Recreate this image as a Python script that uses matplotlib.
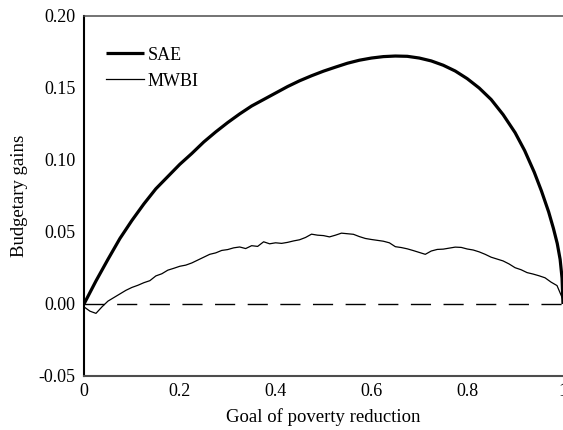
import numpy as np
import matplotlib
matplotlib.use('Agg')
from matplotlib import pyplot as plt

plt.rcParams['font.family'] = ['Liberation Serif', 'DejaVu Serif']

# SAE curve
sae_x = [0.000, 0.025, 0.050, 0.075, 0.100, 0.125, 0.150, 0.175, 0.200, 0.225,
         0.250, 0.275, 0.300, 0.325, 0.350, 0.375, 0.400, 0.425, 0.450, 0.475,
         0.500, 0.525, 0.550, 0.575, 0.600, 0.625, 0.650, 0.675, 0.700, 0.725,
         0.750, 0.775, 0.800, 0.825, 0.850, 0.875, 0.900, 0.920, 0.940, 0.955,
         0.970, 0.980, 0.988, 0.994, 0.998, 1.000]
sae_y = [0.000, 0.016, 0.031, 0.0455, 0.058, 0.0695, 0.080, 0.0885, 0.097, 0.1045,
         0.1125, 0.1195, 0.126, 0.132, 0.1375, 0.142, 0.1465, 0.151, 0.155, 0.1585,
         0.1617, 0.1645, 0.1672, 0.1693, 0.1708, 0.1718, 0.1722, 0.172, 0.1708, 0.1688,
         0.1658, 0.1618, 0.1565, 0.150, 0.142, 0.1315, 0.119, 0.1065, 0.0915, 0.0785,
         0.064, 0.0525, 0.042, 0.031, 0.018, 0.000]

# MWBI curve, step 0.0125
mwbi_x = [i * 0.0125 for i in range(81)]
mwbi_y = [-0.002, -0.005, -0.0065, -0.002, 0.002, 0.0045, 0.007, 0.0095, 0.0115, 0.013,
          0.0148, 0.0162, 0.0195, 0.021, 0.0235, 0.0248, 0.0262, 0.027, 0.0285, 0.0305,
          0.0325, 0.0345, 0.0355, 0.0372, 0.0378, 0.039, 0.0396, 0.0385, 0.0405, 0.040,
          0.0432, 0.0418, 0.0425, 0.0421, 0.0428, 0.0438, 0.0446, 0.0462, 0.0485, 0.0478,
          0.0475, 0.0466, 0.0478, 0.0492, 0.0488, 0.0484, 0.0468, 0.0455, 0.0448, 0.0442,
          0.0436, 0.0425, 0.0398, 0.0392, 0.0383, 0.0371, 0.0358, 0.0345, 0.0368, 0.0379,
          0.0381, 0.0388, 0.0395, 0.0393, 0.0382, 0.0375, 0.0362, 0.0345, 0.0325, 0.0312,
          0.0299, 0.0278, 0.0252, 0.0238, 0.0218, 0.0208, 0.0196, 0.0182, 0.0152, 0.0128,
          0.003]

xticks = [0, 0.2, 0.4, 0.6, 0.8, 1]
xtick_labels = ['0', '0.2', '0.4', '0.6', '0.8', '1']
yticks = [-0.05, 0.00, 0.05, 0.10, 0.15, 0.20]
ytick_labels = ['-0.05', '0.00', '0.05', '0.10', '0.15', '0.20']

fig = plt.figure(figsize=(5.63, 4.30), dpi=100)
ax = fig.add_axes([84/563, 54/430, 1 - 84/563, (376-16)/430])

ax.plot([0, 1], [0, 0], color='black', lw=1.0, dashes=(14.5, 9))
ax.plot(sae_x, sae_y, color='black', lw=2.3, label='SAE',
        solid_capstyle='butt', solid_joinstyle='round')
ax.plot(mwbi_x, mwbi_y, color='black', lw=0.9, label='MWBI')

ax.set_xlim(0, 1)
ax.set_ylim(-0.05, 0.20)
ax.set_xticks(xticks)
ax.set_xticklabels(xtick_labels)
ax.set_yticks(yticks)
ax.set_yticklabels(ytick_labels)
ax.tick_params(length=0, labelsize=13)
ax.tick_params(axis='y', pad=6)
ax.tick_params(axis='x', pad=5)

ax.spines['right'].set_visible(False)
ax.spines['left'].set_linewidth(1.5)
ax.spines['left'].set_color('black')
ax.spines['bottom'].set_linewidth(1.5)
ax.spines['bottom'].set_color('#4d4d4d')
ax.spines['top'].set_linewidth(1.1)
ax.spines['top'].set_color('#4d4d4d')

ax.set_xlabel('Goal of poverty reduction', fontsize=13.5, labelpad=6)
ax.set_ylabel('Budgetary gains', fontsize=13.5, labelpad=8)

ax.legend(loc='upper left', bbox_to_anchor=(0.046, 0.915), frameon=False, fontsize=13,
          borderpad=0, borderaxespad=0, handlelength=2.1, handletextpad=0.2, labelspacing=0.5)

plt.savefig('out.png', dpi=100)
